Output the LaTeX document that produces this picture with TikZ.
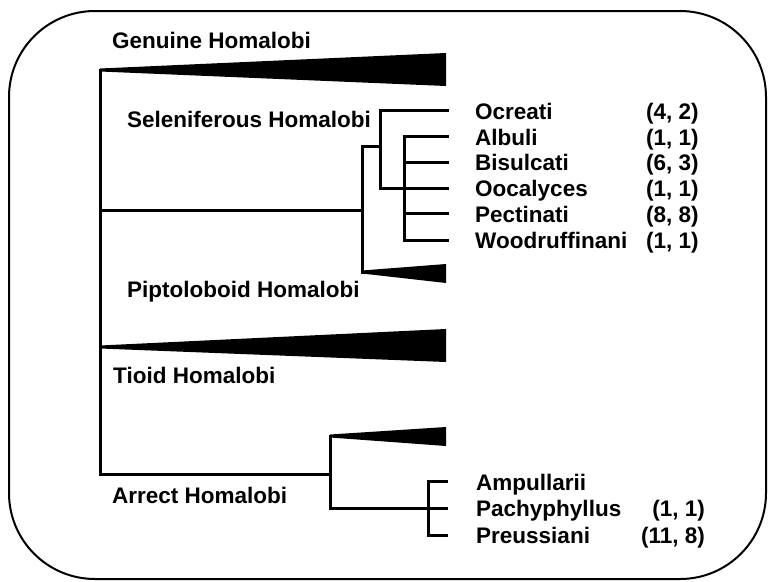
\documentclass[tikz,border=0pt]{standalone}
\usepackage{fontspec}
\setmainfont{Liberation Sans}
\begin{document}
\begin{tikzpicture}[x=1pt,y=-1pt,
  br/.style={line width=3pt,line cap=rect,line join=miter},
  clade/.style={fill=black,draw=none},
  lab/.style={anchor=base west,inner sep=0pt,font=\fontsize{22.5}{25}\selectfont\bfseries},
  cnt/.style={anchor=base west,inner sep=0pt,font=\fontsize{22.5}{25}\selectfont\bfseries},
  cntr/.style={anchor=base east,inner sep=0pt,font=\fontsize{22.5}{25}\selectfont\bfseries}]
\useasboundingbox (0,0) rectangle (768,581);
\draw[line width=2pt,rounded corners=86pt] (9,11) rectangle (766,579);

% coordinates
\coordinate (root) at (100,70);
\coordinate (rootb) at (100,474);
\coordinate (n1) at (100,210);
\coordinate (p1) at (362,210);
\coordinate (p1t) at (362,146);
\coordinate (p1b) at (362,272);
\coordinate (s1) at (380,146);
\coordinate (s1t) at (380,110);
\coordinate (s1b) at (380,188);
\coordinate (s2t) at (404,136);
\coordinate (s2b) at (404,240);
\coordinate (a1) at (330,474);
\coordinate (a1t) at (330,436);
\coordinate (a1b) at (330,508);
\coordinate (a2) at (428,508);
\coordinate (a2t) at (428,481);
\coordinate (a2b) at (428,535);

% clades (triangles)
\fill[clade] (100,68.5) -- (446,53) -- (446,86) -- (100,71.5) -- cycle;
\fill[clade] (362,270.5) -- (446,264) -- (446,283) -- (362,273.5) -- cycle;
\fill[clade] (100,345.5) -- (446,329) -- (446,362) -- (100,348.5) -- cycle;
\fill[clade] (330,434.5) -- (446,427) -- (446,446) -- (330,437.5) -- cycle;

% branches
\draw[br] (root) -- (rootb);
\draw[br] (n1) -- (p1);
\draw[br] (p1t) -- (p1b);
\draw[br] (p1t) -- (s1);
\draw[br] (s1t) -- (s1b);
\draw[br] (s1t) -- (447,110);
\draw[br] (s1b) -- (447,188);
\draw[br] (s2t) -- (s2b);
\foreach \y in {136,162,213,240} \draw[br] (404,\y) -- (447,\y);
\draw[br] (rootb) -- (a1);
\draw[br] (a1t) -- (a1b);
\draw[br] (a1b) -- (a2);
\draw[br] (a2t) -- (a2b);
\draw[br] (a2t) -- (446,481);
\draw[br] (a2b) -- (446,535);
\draw[br] (a2) -- (446,508);

% group labels
\node[lab] (gen) at (112,48) {Genuine Homalobi};
\node[lab] (sel) at (127,127) {Seleniferous Homalobi};
\node[lab] (pip) at (127,297) {Piptoloboid Homalobi};
\node[lab] (tio) at (113,383) {Tioid Homalobi};
\node[lab] (arr) at (112,503) {Arrect Homalobi};

% taxa
\node[lab] (t1) at (475,119.5) {Ocreati};
\node[lab] (t2) at (475,145.2) {Albuli};
\node[lab] (t3) at (475,170.9) {Bisulcati};
\node[lab] (t4) at (475,196.6) {Oocalyces};
\node[lab] (t5) at (475,222.3) {Pectinati};
\node[lab] (t6) at (475,248) {Woodruffinani};
\node[cnt] (c1) at (646,119.5) {(4, 2)};
\node[cnt] (c2) at (646,145.2) {(1, 1)};
\node[cnt] (c3) at (646,170.9) {(6, 3)};
\node[cnt] (c4) at (646,196.6) {(1, 1)};
\node[cnt] (c5) at (646,222.3) {(8, 8)};
\node[cnt] (c6) at (646,248) {(1, 1)};

\node[lab] (t7) at (476,490) {Ampullarii};
\node[lab] (t8) at (476,516) {Pachyphyllus};
\node[lab] (t9) at (476,543) {Preussiani};
\node[cntr] (c8) at (705,516) {(1, 1)};
\node[cntr] (c9) at (705,543) {(11, 8)};
\end{tikzpicture}
\end{document}
